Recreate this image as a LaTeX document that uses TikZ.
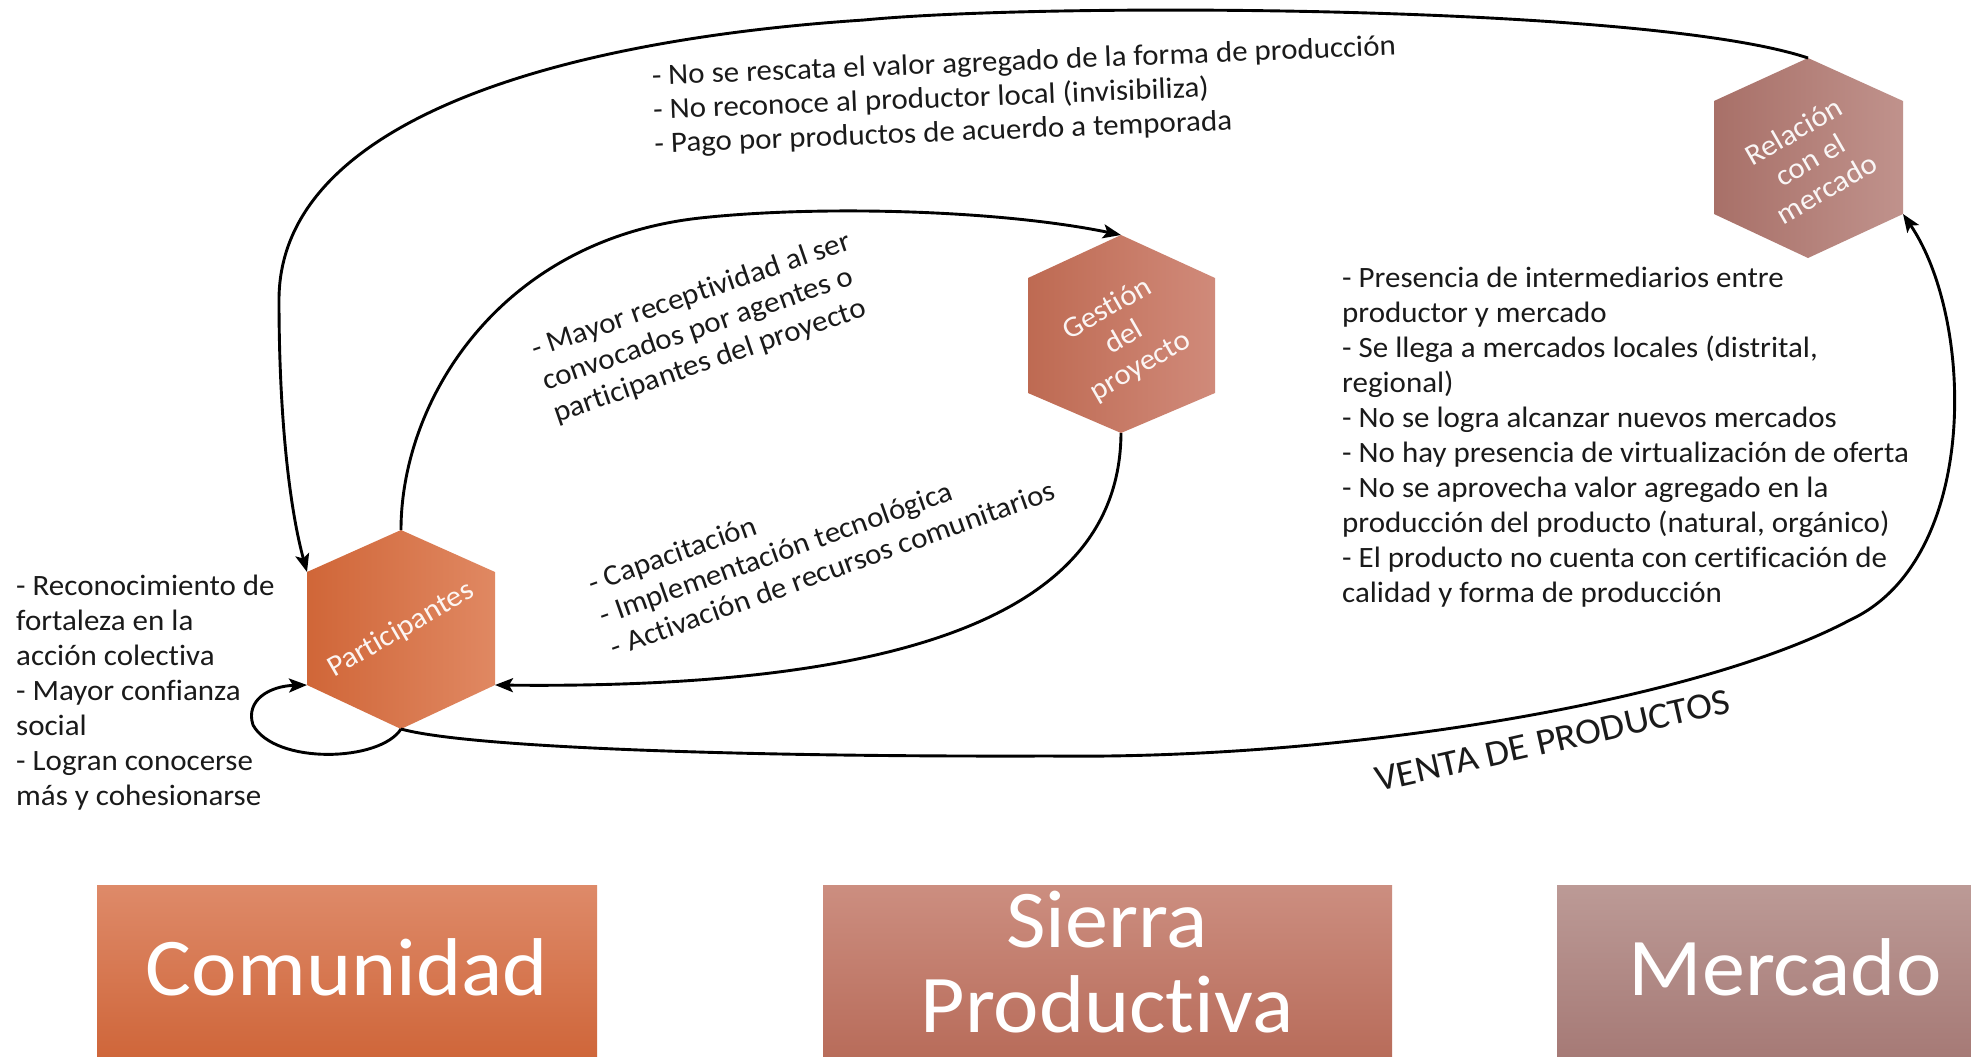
\documentclass[tikz,border=0pt]{standalone}
\usepackage{fontspec}
\setmainfont{Carlito}[FakeStretch=1.05, Ligatures=NoCommon]
\usetikzlibrary{arrows.meta}
\definecolor{pL}{HTML}{D06638}
\definecolor{pR}{HTML}{E08862}
\definecolor{gL}{HTML}{BE6A52}
\definecolor{gR}{HTML}{D08A7A}
\definecolor{rL}{HTML}{A87068}
\definecolor{rR}{HTML}{C0928C}
\definecolor{cT}{HTML}{DE8A69}
\definecolor{cB}{HTML}{CF663A}
\definecolor{sT}{HTML}{CC8E80}
\definecolor{sB}{HTML}{B86C5A}
\definecolor{mT}{HTML}{BC9A96}
\definecolor{mB}{HTML}{A67A76}
\definecolor{ink}{HTML}{1A1A1A}
\begin{document}
\begin{tikzpicture}[x=1pt,y=-1pt,
  conn/.style={line width=2.9pt, draw=black},
  arr/.style={conn, -{Stealth[length=18pt,width=14pt,inset=4pt]}},
  body/.style={inner sep=0pt, align=left, text=ink, font=\fontsize{29.5}{34}\selectfont},
  hexlab/.style={inner sep=0pt, align=center, text=white, text opacity=0.93, font=\fontsize{29.5}{33}\selectfont, rotate=30},
  boxlab/.style={inner sep=0pt, align=center, text=white, font=\fontsize{82}{85}\selectfont}]
\useasboundingbox (0,0) rectangle (1971,1057);
\fill[white] (0,0) rectangle (1971,1057);

% bottom boxes
\shade[top color=cT, bottom color=cB] (97,885) rectangle (597,1057);
\shade[top color=sT, bottom color=sB] (823,885) rectangle (1392,1057);
\shade[top color=mT, bottom color=mB] (1557,885) rectangle (1971,1057);
\node[boxlab, anchor=base] (comlab) at (347,995) {Comunidad};
\node[boxlab, anchor=north] (sierlab) at (1107,877) {\rule{0pt}{70pt}Sierra\\Productiva};
\node[boxlab, anchor=base] (merlab) at (1785,995) {Mercado};

% hexagon Participantes
\coordinate (Pt) at (401,530); \coordinate (Pur) at (495,572);
\coordinate (Plr) at (495,685); \coordinate (Pb) at (401,729);
\coordinate (Pll) at (307,685); \coordinate (Pul) at (307,572);
\shade[left color=pL, right color=pR] (Pt) -- (Pur) -- (Plr) -- (Pb) -- (Pll) -- (Pul) -- cycle;
\node[hexlab] (Plab) at (401,630) {Participantes};

% hexagon Gestion
\coordinate (Gt) at (1121,235); \coordinate (Gur) at (1215,278);
\coordinate (Glr) at (1215,393); \coordinate (Gb) at (1121,433);
\coordinate (Gll) at (1028,393); \coordinate (Gul) at (1028,278);
\shade[left color=gL, right color=gR] (Gt) -- (Gur) -- (Glr) -- (Gb) -- (Gll) -- (Gul) -- cycle;
\node[hexlab] (Glab) at (1124,338) {Gestión\\del\\proyecto};

% hexagon Relacion
\coordinate (Rt) at (1808,58); \coordinate (Rur) at (1903,101);
\coordinate (Rlr) at (1903,214); \coordinate (Rb) at (1808,258);
\coordinate (Rll) at (1714,214); \coordinate (Rul) at (1714,101);
\shade[left color=rL, right color=rR] (Rt) -- (Rur) -- (Rlr) -- (Rb) -- (Rll) -- (Rul) -- cycle;
\node[hexlab] (Rlab) at (1810,160) {Relación\\con el\\mercado};

% connectors
\draw[arr] (Rt) .. controls (1650,5) and (1050,2) .. (864,20)
  .. controls (560,40) and (279,120) .. (279,300)
  .. controls (279,420) and (290,510) .. (Pul);
\draw[arr] (Pt) .. controls (401,400) and (500,240) .. (700,218)
  .. controls (820,205) and (1000,210) .. (Gt);
\draw[arr] (Gb) .. controls (1120,590) and (960,690) .. (Plr);
\draw[arr] (Pb) .. controls (380,762) and (275,765) .. (253,725)
  .. controls (245,700) and (270,686) .. (Pll);
\draw[arr] (Pb) .. controls (470,748) and (750,757) .. (1050,756)
  .. controls (1350,760) and (1700,700) .. (1850,620)
  .. controls (1980,560) and (1975,320) .. (Rlr);

% texts
\node[body, anchor=north west, rotate=2.3] (ttop) at (651,59)
  {\rule{0pt}{26pt}- No se rescata el valor agregado de la forma de producción\\- No reconoce al productor local (invisibiliza)\\- Pago por productos de acuerdo a temporada};
\node[body, anchor=north west, rotate=19] (tmid) at (526.5,333.4)
  {\rule{0pt}{26pt}- Mayor receptividad al ser\\convocados por agentes o\\participantes del proyecto};
\node[body, anchor=north west, rotate=19.7] (tlow) at (583,568.5)
  {\rule{0pt}{26pt}- Capacitación\\- Implementación tecnológica\\- Activación de recursos comunitarios};
\node[body, anchor=north west, font=\fontsize{29.5}{35}\selectfont] (tleft) at (16,569)
  {\rule{0pt}{26pt}- Reconocimiento de\\fortaleza en la\\acción colectiva\\- Mayor confianza\\social\\- Logran conocerse\\más y cohesionarse};
\node[body, anchor=north west, font=\fontsize{29.5}{35}\selectfont] (tright) at (1342,261)
  {\rule{0pt}{26pt}- Presencia de intermediarios entre\\productor y mercado\\- Se llega a mercados locales (distrital,\\regional)\\- No se logra alcanzar nuevos mercados\\- No hay presencia de virtualización de oferta\\- No se aprovecha valor agregado en la\\producción del producto (natural, orgánico)\\- El producto no cuenta con certificación de\\calidad y forma de producción};
\node[inner sep=0pt, anchor=base west, rotate=12.7, text=ink, font=\fontsize{37}{40}\selectfont] (venta) at (1378,792) {VENTA DE PRODUCTOS};
\end{tikzpicture}
\end{document}
